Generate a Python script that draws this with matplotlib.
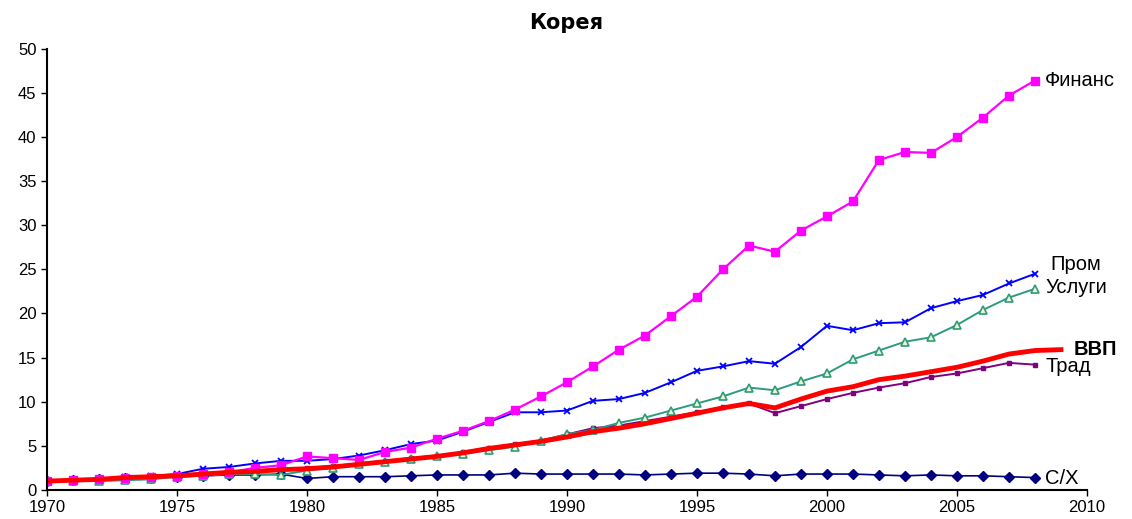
import matplotlib.pyplot as plt
import numpy as np

plt.rcParams['font.family'] = ['Liberation Sans', 'DejaVu Sans']

years = np.arange(1970, 2009)
years_gdp = np.arange(1970, 2010)

finans = [1.0, 1.1, 1.2, 1.4, 1.5, 1.6, 1.8, 2.0, 2.5, 2.8,
          3.8, 3.6, 3.4, 4.3, 4.8, 5.8, 6.7, 7.8, 9.1, 10.6,
          12.2, 14.0, 15.9, 17.5, 19.7, 21.9, 25.0, 27.7, 27.0, 29.4,
          31.0, 32.7, 37.4, 38.3, 38.2, 40.0, 42.2, 44.7, 46.4]
prom = [1.0, 1.1, 1.2, 1.5, 1.6, 1.8, 2.4, 2.6, 3.0, 3.3,
        3.3, 3.5, 3.9, 4.5, 5.2, 5.6, 6.6, 7.7, 8.8, 8.8,
        9.0, 10.1, 10.3, 11.0, 12.2, 13.5, 14.0, 14.6, 14.3, 16.2,
        18.6, 18.1, 18.9, 19.0, 20.6, 21.4, 22.1, 23.4, 24.5]
uslugi = [1.0, 1.05, 1.0, 1.1, 1.2, 1.5, 1.6, 1.8, 1.8, 1.7,
          2.2, 2.5, 2.9, 3.2, 3.5, 3.8, 4.1, 4.5, 4.9, 5.6,
          6.3, 6.8, 7.6, 8.2, 9.0, 9.8, 10.6, 11.6, 11.3, 12.3,
          13.2, 14.8, 15.8, 16.8, 17.3, 18.7, 20.4, 21.8, 22.8]
vvp = [1.0, 1.1, 1.2, 1.4, 1.5, 1.6, 1.8, 2.0, 2.1, 2.3,
       2.4, 2.6, 2.9, 3.2, 3.5, 3.8, 4.2, 4.7, 5.1, 5.5,
       6.0, 6.6, 7.0, 7.5, 8.1, 8.7, 9.3, 9.8, 9.3, 10.3,
       11.2, 11.7, 12.5, 12.9, 13.4, 13.9, 14.6, 15.4, 15.8, 15.9]
trad = [1.0, 1.1, 1.2, 1.5, 1.6, 1.7, 1.8, 2.0, 2.2, 2.4,
        2.5, 2.7, 3.0, 3.3, 3.6, 3.9, 4.3, 4.8, 5.2, 5.6,
        6.3, 7.0, 7.3, 7.8, 8.3, 8.8, 9.4, 9.8, 8.7, 9.5,
        10.3, 11.0, 11.6, 12.1, 12.8, 13.2, 13.8, 14.4, 14.2]
sx = [1.0, 1.1, 1.2, 1.3, 1.4, 1.5, 1.6, 1.7, 1.7, 1.8,
      1.3, 1.5, 1.5, 1.5, 1.6, 1.7, 1.7, 1.7, 1.9, 1.8,
      1.8, 1.8, 1.8, 1.7, 1.8, 1.9, 1.9, 1.8, 1.6, 1.8,
      1.8, 1.8, 1.7, 1.6, 1.7, 1.6, 1.6, 1.5, 1.4]

fig = plt.figure(figsize=(11.32, 5.19), dpi=100)
ax = fig.add_axes([0.0415, 0.056, 0.9187, 0.85])

ax.plot(years, sx, color='#000080', marker='D', ms=5, lw=1.2)
ax.plot(years, trad, color='#800080', marker='s', ms=3.5, lw=1.4)
ax.plot(years, uslugi, color='#2E9A7E', marker='^', ms=6, mfc='#EEF5C8', mew=1.2, lw=1.4)
ax.plot(years, prom, color='#0000FF', marker='x', ms=5, mew=1.3, lw=1.4)
ax.plot(years, finans, color='#FF00FF', marker='s', ms=6, lw=1.6)
ax.plot(years_gdp, vvp, color='#FF0000', lw=3.5)

# подписи рядов справа
lbl = dict(fontsize=14.5, va='center', ha='left', clip_on=False)
ax.text(2008.4, finans[-1], 'Финанс', **lbl)
ax.text(2008.6, 25.5, 'Пром', **lbl)
ax.text(2008.4, 22.9, 'Услуги', **lbl)
ax.text(2009.5, 15.9, 'ВВП', fontsize=14.5, fontweight='bold', va='center', ha='left', clip_on=False)
ax.text(2008.4, 14.0, 'Трад', **lbl)
ax.text(2008.4, 1.3, 'С/Х', **lbl)

ax.set_xlim(1970, 2010)
ax.set_ylim(0, 50)
ax.set_xticks(np.arange(1970, 2011, 5))
ax.set_yticks(np.arange(0, 51, 5))
ax.tick_params(labelsize=12, length=4, width=1)
ax.spines['top'].set_visible(False)
ax.spines['right'].set_visible(False)
ax.spines['left'].set_linewidth(1.5)
ax.spines['bottom'].set_linewidth(1.5)

fig.text(0.5, 0.955, 'Корея', ha='center', va='center', fontsize=15, fontweight='bold',
         family=['DejaVu Sans'])

fig.savefig('out.png', dpi=100)
